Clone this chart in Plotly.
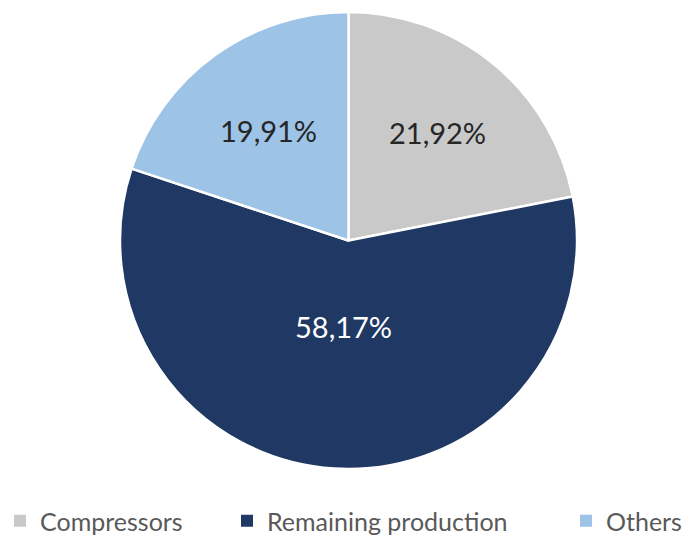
import math
import plotly.graph_objects as go

categories = ["Compressors", "Remaining production", "Others"]
shares = [21.92, 58.17, 19.91]
colors = ["#C9C9C9", "#203864", "#9DC3E6"]
text_colors = ["#262626", "#FFFFFF", "#262626"]

# radial position of each percentage label, as a fraction of the pie radius
label_radius = [0.61, 0.375, 0.595]
# horizontal start of each legend entry (px from the left edge)
legend_x_px = [-4, 227, 566]

W, H = 684, 538

fig = go.Figure()
fig.add_trace(
    go.Pie(
        labels=categories,
        values=shares,
        sort=False,
        direction="clockwise",
        rotation=0,
        marker=dict(colors=colors, line=dict(color="#FFFFFF", width=2.5)),
        textinfo="none",
        hoverinfo="label+percent",
        showlegend=False,
        domain=dict(x=[0, 1], y=[0, 1]),
    )
)

# percentage labels placed at each slice's mid-angle (clockwise from 12 o'clock)
total = sum(shares)
start = 0.0
for v, frac, tc in zip(shares, label_radius, text_colors):
    mid = (start + v / 2) / total * 2 * math.pi
    start += v
    fig.add_annotation(
        x=0.5 + 0.5 * frac * math.sin(mid),
        y=0.5 + 0.5 * frac * math.cos(mid),
        xref="paper",
        yref="paper",
        text=f"{v / total * 100:.2f}".replace(".", ",") + "%",
        showarrow=False,
        xanchor="center",
        yanchor="middle",
        font=dict(family="Lato", size=29, color=tc),
    )

# one legend per category so the entries sit where they belong along the bottom
legend_names = ["legend", "legend2", "legend3"]
for name, color, lg in zip(categories, colors, legend_names):
    fig.add_trace(
        go.Scatter(
            x=[None],
            y=[None],
            mode="markers",
            name=name,
            marker=dict(symbol="square", size=12, color=color),
            legend=lg,
            showlegend=True,
        )
    )

legend_style = dict(
    orientation="h",
    xref="container",
    yref="container",
    xanchor="left",
    yanchor="middle",
    y=1 - 521 / H,
    bgcolor="rgba(0,0,0,0)",
    borderwidth=0,
    font=dict(family="Lato", size=25, color="#595959"),
)

fig.update_layout(
    width=W,
    height=H,
    margin=dict(l=120, r=107, t=12, b=69),
    paper_bgcolor="#FFFFFF",
    plot_bgcolor="#FFFFFF",
    separators=",.",
    xaxis=dict(visible=False),
    yaxis=dict(visible=False),
    legend=dict(x=legend_x_px[0] / W, **legend_style),
    legend2=dict(x=legend_x_px[1] / W, **legend_style),
    legend3=dict(x=legend_x_px[2] / W, **legend_style),
)

fig.write_html("out.html")
